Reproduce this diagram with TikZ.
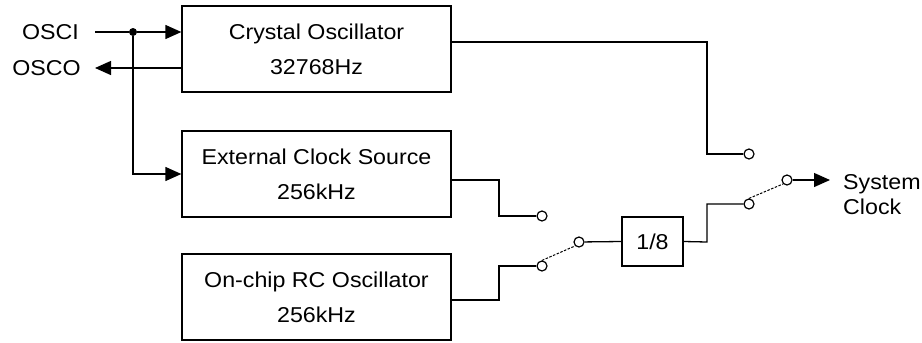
\documentclass[tikz,border=0pt]{standalone}
\usepackage{fontspec}
\setmainfont{Liberation Sans}[FakeStretch=1.08]
\usetikzlibrary{arrows.meta}
\begin{document}
\begin{tikzpicture}[x=1pt,y=-1pt,
  wire/.style={line width=1.3pt},
  arr/.style={wire,-{Triangle[length=16pt,width=14pt]}},
  blk/.style={draw,line width=1.3pt,align=center,inner sep=0pt,
    font=\fontsize{21.5}{35}\selectfont},
  contact/.style={circle,draw,line width=1.2pt,fill=white,minimum size=10pt,inner sep=0pt},
  swarm/.style={line width=1pt,dash pattern=on 2.5pt off 1.5pt},
  lbl/.style={font=\fontsize{21.5}{25}\selectfont,inner sep=0pt,align=left},
  dot/.style={circle,fill=black,minimum size=8pt,inner sep=0pt}]
\useasboundingbox (0,0) rectangle (922,343);
% blocks
\node[blk,minimum width=269pt,minimum height=86pt] (xtal) at (316.5,49) {Crystal Oscillator\\32768Hz};
\node[blk,minimum width=269pt,minimum height=86pt] (ext) at (316.5,174) {External Clock Source\\256kHz};
\node[blk,minimum width=269pt,minimum height=86pt] (rc) at (316.5,297) {On-chip RC Oscillator\\256kHz};
\node[blk,minimum width=61pt,minimum height=49pt] (div) at (652.5,241.5) {1/8};
% labels
\node[lbl,anchor=east] (osci) at (79,32) {OSCI};
\node[lbl,anchor=east] (osco) at (81,68) {OSCO};
\node[lbl,anchor=west] (sys) at (843,195) {System\\Clock};
% coordinates
\coordinate (osciL) at (95,32);
\node[dot] (jn) at (133,32) {};
\coordinate (oscoTip) at (95,68);
\coordinate (xo) at (451,42);
\coordinate (xb) at (707,42);
\coordinate (eo) at (451,180);
\coordinate (eb) at (499,180);
\coordinate (ro) at (451,300);
\coordinate (rb) at (499,300);
\coordinate (dbend) at (707,242);
\coordinate (sysTip) at (830,180);
% contacts
\node[contact] (c1) at (749,154) {};
\node[contact] (c2) at (542,216) {};
\node[contact] (c3) at (542,266) {};
\node[contact] (p1) at (579,242) {};
\node[contact] (c4) at (749,204) {};
\node[contact] (p2) at (787,180) {};
% input side
\draw[wire] (osciL) -- (jn);
\draw[arr] (jn) -- (jn -| xtal.west);
\draw[arr] (xtal.west |- oscoTip) -- (oscoTip);
\draw[arr] (jn) |- (ext.west);
% outputs
\draw[wire] (xo) -- (xb) |- (c1);
\draw[wire] (eo) -- (eb) |- (c2);
\draw[wire] (ro) -- (rb) |- (c3);
% switch 1
\draw[swarm] (c3.north) -- (p1.south west);
\draw[wire] (p1) -- (div.west);
\draw[wire] (div.east) -- (dbend) |- (c4);
% switch 2
\draw[swarm] (c4.north) -- (p2.south west);
\draw[arr] (p2) -- (sysTip);
\end{tikzpicture}
\end{document}
